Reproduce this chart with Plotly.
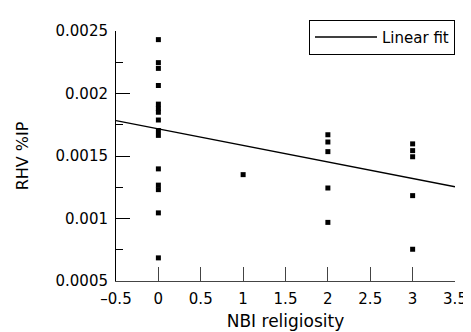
import plotly.graph_objects as go

# Data
religiosity = [0]*15 + [1] + [2]*5 + [3]*5
rhv_ip = [0.002431, 0.002247, 0.002201, 0.002064, 0.001915, 0.00188, 0.00185,
          0.001788, 0.001704, 0.001665, 0.001397, 0.001267, 0.001231, 0.001045, 0.000685,
          0.001351,
          0.00167, 0.001612, 0.001535, 0.001244, 0.000969,
          0.001597, 0.001543, 0.001494, 0.001183, 0.000754]

fit_x = [-0.5, 3.5]
fit_y = [0.001783, 0.001254]

x_tick_vals = [-0.5, 0, 0.5, 1, 1.5, 2, 2.5, 3, 3.5]
x_tick_text = ["\u20130.5", "0", "0.5", "1", "1.5", "2", "2.5", "3", "3.5"]
y_tick_vals = [0.0005, 0.001, 0.0015, 0.002, 0.0025]
y_tick_text = ["0.0005", "0.001", "0.0015", "0.002", "0.0025"]

fig = go.Figure()
fig.add_trace(go.Scatter(x=religiosity, y=rhv_ip, mode="markers",
                         marker=dict(symbol="square", size=5, color="black"),
                         showlegend=False))
fig.add_trace(go.Scatter(x=fit_x, y=fit_y, mode="lines", name="Linear fit",
                         line=dict(color="black", width=1.3)))

font = "DejaVu Sans"
fig.update_layout(
    width=471, height=332,
    margin=dict(l=108, r=15, t=19, b=51),
    plot_bgcolor="white", paper_bgcolor="white",
    font=dict(family=font, size=15, color="black"),
    legend=dict(x=1, y=1.045, xanchor="right", yanchor="top", itemwidth=62,
                bordercolor="black", borderwidth=1, bgcolor="white",
                font=dict(family=font, size=15)),
)
fig.update_xaxes(range=[-0.5, 3.5], tickvals=x_tick_vals, ticktext=x_tick_text,
                 ticks="inside", ticklen=14, tickcolor="#444", tickwidth=1,
                 showline=True, linecolor="#444", linewidth=1,
                 showgrid=False, zeroline=False, ticklabelstandoff=4,
                 title=dict(text="NBI religiosity", font=dict(size=17), standoff=8))
fig.update_yaxes(range=[0.0005, 0.0025], tickvals=y_tick_vals, ticktext=y_tick_text,
                 ticks="inside", ticklen=14, tickcolor="black", tickwidth=1,
                 minor=dict(ticks="inside", ticklen=7, dtick=0.00025, tickcolor="black",
                            showgrid=False),
                 showline=True, linecolor="black", linewidth=1,
                 showgrid=False, zeroline=False, ticklabelstandoff=4,
                 title=dict(text="RHV %IP", font=dict(size=16), standoff=22))

fig.write_html("out.html")
